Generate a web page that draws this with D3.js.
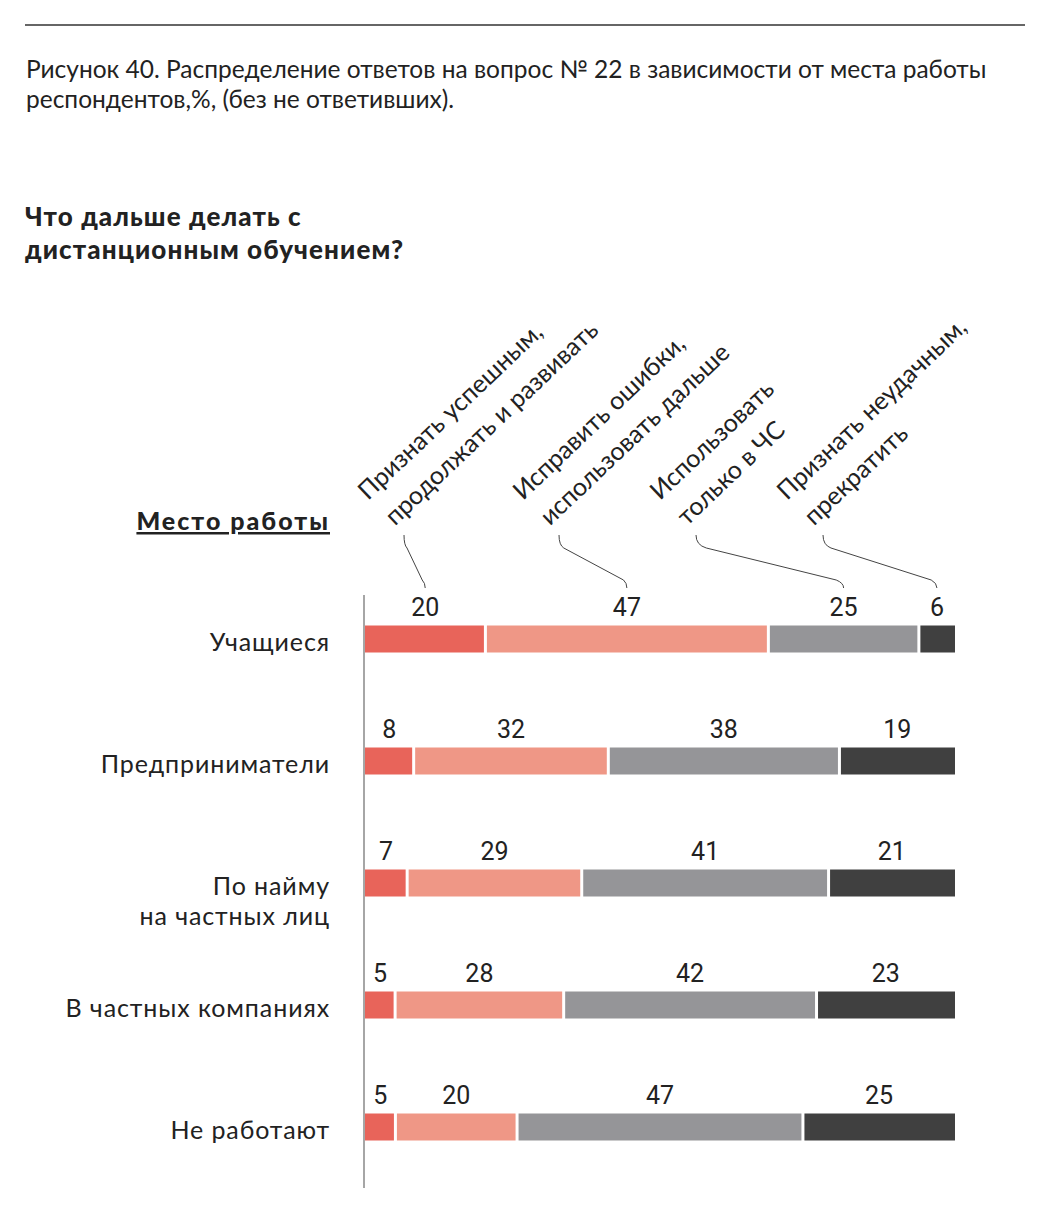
<!DOCTYPE html>
<html><head><meta charset="utf-8">
<script src="https://cdn.jsdelivr.net/npm/d3@7"></script>
<style>
body{margin:0;background:#fff;}
text{font-family:Lato,"Open Sans",sans-serif;fill:#222;}
.num{font-family:Roboto,sans-serif;}
</style></head>
<body><svg id="c" width="1051" height="1213"></svg>
<script>
const titleLines = ["Рисунок 40. Распределение ответов на вопрос № 22 в зависимости от места работы","респондентов,%, (без не ответивших)."];
const subtitleLines = ["Что дальше делать с","дистанционным обучением?"];
const rowHeader = "Место работы";
const categories = [["Учащиеся"],["Предприниматели"],["По найму","на частных лиц"],["В частных компаниях"],["Не работают"]];
const seriesNames = [["Признать успешным,","продолжать и развивать"],["Исправить ошибки,","использовать дальше"],["Использовать","только в ЧС"],["Признать неудачным,","прекратить"]];
const s1 = [20,8,7,5,5];
const s2 = [47,32,29,28,20];
const s3 = [25,38,41,42,47];
const s4 = [6,19,21,23,25];
const colors = ["#e8645a","#ef9786","#959598","#404040"];

const svg = d3.select("#c");
svg.append("line").attr("x1",25).attr("x2",1025).attr("y1",25).attr("y2",25).attr("stroke","#333").attr("stroke-width",1.5);
svg.append("text").attr("x",26).attr("y",78).attr("font-size",24.5)
  .selectAll("tspan").data(titleLines).join("tspan").attr("x",26).attr("dy",(d,i)=>i?30:0).text(d=>d);
svg.append("text").attr("x",25).attr("y",226).attr("font-size",26).attr("font-weight",900).attr("letter-spacing",1.1)
  .selectAll("tspan").data(subtitleLines).join("tspan").attr("x",25).attr("dy",(d,i)=>i?33:0).text(d=>d);
svg.append("text").attr("x",330).attr("y",530).attr("text-anchor","end").attr("font-size",25).attr("font-weight",900).attr("letter-spacing",2).attr("text-decoration","underline").text(rowHeader);

const series = [s1,s2,s3,s4];
const rows = categories.map((c,i)=>{
  const vals = series.map(s=>s[i]);
  const tot = d3.sum(vals);
  let acc=0;
  const segs = vals.map((v,j)=>{const o={v,j,x0:acc/tot,x1:(acc+v)/tot};acc+=v;return o;});
  return {c,i,segs};
});
const x = d3.scaleLinear().domain([0,1]).range([365,955]);
const y = d3.scalePoint().domain(d3.range(categories.length)).range([639,1127]);
const bh = 27;

svg.append("line").attr("x1",364).attr("x2",364).attr("y1",595).attr("y2",1188).attr("stroke","#888").attr("stroke-width",1.5);

const g = svg.selectAll("g.row").data(rows).join("g").attr("class","row");
g.selectAll("rect").data(d=>d.segs.map(s=>({...s,row:d.i}))).join("rect")
  .attr("x",d=>x(d.x0)+(d.j?1.5:0)).attr("width",d=>x(d.x1)-x(d.x0)-(d.j?1.5:0)-(d.j<3?1.5:0))
  .attr("y",d=>y(d.row)-bh/2).attr("height",bh).attr("fill",d=>colors[d.j]);
g.selectAll("text.num").data(d=>d.segs.map(s=>({...s,row:d.i}))).join("text").attr("class","num")
  .attr("x",d=>x((d.x0+d.x1)/2)).attr("y",d=>y(d.row)-bh/2-10).attr("text-anchor","middle").attr("font-size",25).text(d=>d.v);
g.append("text").attr("x",330).attr("y",d=>y(d.i)+12).attr("text-anchor","end").attr("font-size",25).attr("letter-spacing",0.9)
  .selectAll("tspan").data(d=>d.c).join("tspan").attr("x",330).attr("dy",(d,i)=>i?30:0).text(d=>d);

// rotated series labels
const labelX = [368,523,660,787];
const ang = -43.5;
seriesNames.forEach((lines,j)=>{
  svg.append("text").attr("transform",`translate(${labelX[j]},501) rotate(${ang})`).attr("font-size",25)
    .selectAll("tspan").data(lines).join("tspan").attr("x",(d,i)=>i?2:0).attr("y",(d,i)=>i?37:0).text(d=>d);
  const x0 = labelX[j]+36, y0=535;
  const s = rows[0].segs[j];
  const x1 = x((s.x0+s.x1)/2), y1 = 588;
  const dx = x1-x0, k=Math.max(3,0.07*dx), k2=Math.max(3,0.05*dx);
  const p = d3.path();
  p.moveTo(x0,y0);
  p.quadraticCurveTo(x0,y0+10,x0+k,y0+13);
  p.lineTo(x1-k2,y1-8);
  p.quadraticCurveTo(x1,y1-5,x1,y1);
  svg.append("path").attr("d",p.toString()).attr("fill","none").attr("stroke","#444").attr("stroke-width",1);
});
</script></body></html>
